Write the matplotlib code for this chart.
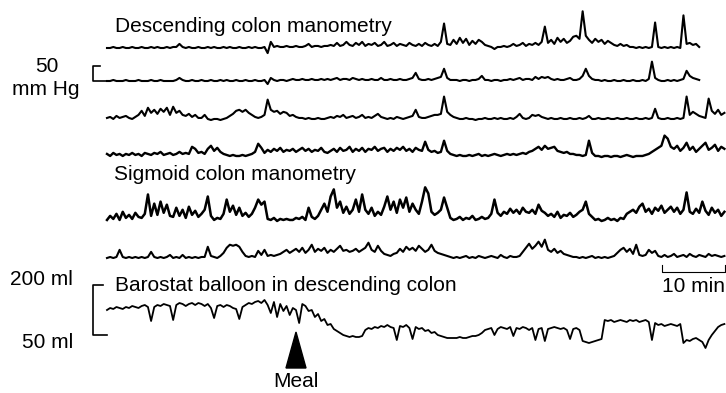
import numpy as np
import matplotlib.pyplot as plt
from matplotlib.patches import Polygon

plt.rcParams['font.family'] = ['Liberation Sans', 'DejaVu Sans']

# one reading every half minute, meal given at 30 min
STEP_MIN = 0.5
meal_min = 30

# descending colon manometry, 3 channels + 1 (mm Hg above baseline)
desc1 = [0, 0, 3, 0, 0, 3, 0, 0, 3, 0,
         0, 3, 0, 0, 3, 0, 3, 0, 0, 3,
         0, 3, 3, 12, 3, 0, 3, 0, 0, 3,
         0, 0, 3, 0, 3, 0, 0, 3, 0, 3,
         0, 0, 3, 0, 0, 3, 0, 3, 0, 0,
         3, -15, 18, 3, 6, 3, 3, 6, 3, 3,
         6, 3, 3, 6, 12, 3, 6, 6, 3, 6,
         6, 9, 6, 15, 6, 9, 18, 9, 6, 15,
         9, 18, 6, 12, 9, 15, 6, 9, 18, 6,
         9, 15, 6, 12, 9, 6, 15, 9, 6, 12,
         6, 15, 9, 6, 12, 6, 18, 72, 12, 9,
         24, 12, 30, 15, 27, 9, 21, 12, 24, 18,
         9, 6, 3, -3, 3, 3, 6, 3, 6, 12,
         6, 9, 15, 6, 12, 9, 15, 9, 18, 63,
         15, 24, 12, 30, 18, 27, 15, 21, 33, 36,
         27, 108, 36, 24, 15, 27, 18, 24, 12, 21,
         15, 9, 6, 12, 6, 9, 3, 3, 0, 3,
         0, 3, 0, 3, 75, 3, 0, 3, 0, 3,
         0, 3, 0, 96, 12, 15, 9, 12, 3]

desc2 = [0, 0, 3, 0, 0, 0, 3, 0, 0, 0,
         3, 0, 0, 0, 3, 0, 0, 3, 0, 0,
         0, 0, 3, 9, 3, 0, 0, 3, 0, 0,
         3, 0, 0, 3, 0, 0, 3, 0, 3, 0,
         0, 3, 0, 0, 3, 0, 0, 3, 0, 0,
         3, -9, 9, 3, 0, 3, 3, 0, 3, 6,
         3, 3, 6, 3, 3, 6, 3, 3, 6, 3,
         6, 3, 6, 9, 3, 6, 6, 3, 9, 6,
         3, 6, 3, 3, 6, 3, 3, 9, 3, 3,
         6, 3, 3, 6, 3, 3, 6, 9, 24, 6,
         3, 3, 6, 3, 6, 9, 12, 36, 9, 3,
         3, 3, 0, 3, 3, 0, 3, 3, 6, 15,
         3, 3, 0, 3, 3, 0, 3, 3, 6, 3,
         6, 9, 3, 6, 6, 3, 12, 6, 12, 9,
         12, 6, 3, 6, 3, 3, 6, 9, 3, 3,
         6, 15, 36, 15, 6, 3, 3, 0, 3, 0,
         0, 3, 0, 0, 3, 0, 0, 3, 0, 0,
         3, 0, 6, 57, 9, 3, 0, 0, 3, 0,
         3, 0, 3, 6, 30, 15, 9, 6, 3]

desc3 = [6, 9, 3, 12, 6, 9, 12, 6, 3, 9,
         15, 27, 12, 36, 21, 30, 18, 33, 24, 36,
         15, 39, 21, 27, 15, 12, 18, 9, 15, 6,
         6, 15, 3, 0, 3, 3, 0, 3, 6, 12,
         18, 27, 30, 24, 30, 21, 15, 9, 6, 9,
         15, 60, 30, 24, 27, 18, 24, 21, 12, 15,
         9, 6, 6, 3, 6, 3, 3, 6, 3, 3,
         6, 9, 6, 12, 9, 15, 6, 9, 12, 6,
         9, 15, 6, 9, 6, 12, 18, 9, 6, 3,
         6, 3, 9, 6, 3, 6, 9, 12, 30, 9,
         6, 6, 9, 12, 15, 15, 18, 69, 24, 15,
         9, 6, 3, 3, 6, 3, 3, 0, 3, 3,
         6, 3, 3, 6, 3, 6, 3, 3, 6, 3,
         9, 18, 6, 3, 6, 15, 12, 15, 9, 6,
         3, 6, 3, 3, 6, 3, 3, 6, 3, 3,
         6, 3, 6, 12, 3, 3, 6, 3, 3, 6,
         3, 3, 6, 3, 3, 6, 3, 3, 6, 3,
         3, 6, 3, 6, 33, 6, 3, 3, 6, 3,
         3, 6, 3, 6, 69, 15, 24, 18, 12, 9,
         6, 63, 27, 18, 30, 15, 21]

desc4 = [9, 3, 12, 6, 9, 3, 9, 6, 12, 6,
         9, 3, 12, 9, 6, 12, 9, 15, 6, 9,
         12, 6, 9, 15, 9, 12, 9, 30, 24, 12,
         15, 9, 24, 33, 18, 27, 15, 9, 6, 3,
         6, 3, 3, 6, 3, 6, 9, 15, 39, 27,
         12, 21, 15, 24, 18, 27, 15, 21, 18, 24,
         15, 21, 27, 18, 24, 15, 21, 18, 27, 15,
         12, 18, 24, 15, 27, 18, 21, 30, 15, 24,
         18, 27, 15, 24, 21, 30, 18, 24, 27, 15,
         24, 18, 27, 21, 30, 18, 24, 15, 27, 21,
         18, 45, 21, 15, 18, 12, 15, 48, 18, 9,
         6, 3, 6, 3, 3, 6, 3, 6, 9, 3,
         6, 3, 6, 9, 6, 3, 6, 9, 6, 9,
         6, 9, 12, 9, 15, 18, 24, 30, 21, 33,
         24, 27, 30, 18, 15, 12, 15, 9, 9, 6,
         6, 3, 6, 48, 12, 3, 3, 0, 3, 3,
         0, 3, 3, 0, 3, 6, 3, 0, 3, 3,
         3, 6, 9, 15, 21, 27, 33, 63, 54, 30,
         24, 33, 18, 27, 42, 21, 30, 15, 24, 33,
         42, 21, 27, 36, 18, 30, 24]

# sigmoid colon manometry (mm Hg above baseline)
sig1 = [6, 18, 9, 24, 6, 30, 12, 21, 9, 27,
        15, 12, 24, 81, 18, 54, 21, 60, 27, 51,
        18, 15, 42, 18, 36, 12, 45, 21, 33, 15,
        24, 36, 75, 18, 6, 12, 9, 24, 66, 30,
        48, 21, 42, 18, 27, 15, 24, 42, 66, 51,
        60, 9, 6, 12, 3, 9, 6, 9, 6, 6,
        12, 9, 15, 6, 42, 15, 9, 18, 36, 54,
        30, 75, 96, 42, 60, 27, 45, 24, 36, 66,
        30, 81, 36, 24, 42, 18, 30, 21, 45, 75,
        36, 60, 27, 66, 42, 72, 30, 54, 36, 24,
        60, 102, 84, 30, 21, 27, 36, 72, 42, 12,
        6, 9, 15, 6, 12, 9, 18, 6, 9, 15,
        9, 12, 24, 66, 27, 18, 30, 24, 39, 27,
        36, 24, 42, 30, 27, 36, 24, 51, 33, 27,
        18, 24, 15, 30, 12, 21, 18, 27, 15, 21,
        30, 36, 60, 24, 15, 6, 9, 3, 6, 12,
        6, 9, 3, 12, 9, 24, 30, 36, 27, 45,
        54, 30, 39, 24, 42, 33, 48, 27, 36, 45,
        30, 42, 24, 36, 87, 30, 24, 39, 27, 60,
        33, 21, 42, 27, 36, 18, 30]

sig2 = [0, 3, 0, 3, 24, 3, 0, 3, 0, 3,
        0, 3, 0, 3, 18, 3, 0, 3, 0, 3,
        9, 0, 3, 0, 9, 0, 3, 0, 3, 0,
        3, 3, 33, 6, 3, 0, 6, 15, 30, 39,
        36, 39, 33, 18, 6, 3, 6, 3, 21, 9,
        24, 6, 9, 6, 9, 12, 18, 24, 15, 21,
        27, 18, 30, 15, 24, 39, 18, 27, 21, 30,
        15, 24, 18, 27, 36, 21, 24, 18, 21, 27,
        18, 24, 30, 45, 24, 18, 36, 21, 12, 9,
        6, 12, 15, 27, 18, 33, 24, 30, 21, 36,
        27, 18, 24, 39, 21, 15, 12, 9, 6, 3,
        0, 3, 0, 3, 6, 0, 3, 0, 6, 3,
        0, 3, 6, 3, 0, 9, 3, 0, 6, 3,
        3, 6, 18, 30, 42, 27, 36, 48, 33, 54,
        24, 18, 27, 15, 21, 12, 9, 6, 3, 3,
        0, 3, 0, 3, 6, 0, 3, 0, 3, 0,
        3, 6, 15, 24, 30, 18, 27, 12, 39, 9,
        6, 9, 24, 15, 21, 6, 3, 9, 3, 6,
        12, 3, 6, 9, 3, 12, 6, 3, 9, 6,
        3, 12, 6, 9, 6, 3, 6]

# barostat balloon volume (ml)
barostat_ml = [125, 131, 128, 134, 131, 128, 134, 131, 137, 134,
               131, 137, 140, 134, 92, 134, 140, 137, 143, 140,
               137, 95, 140, 146, 143, 137, 143, 146, 140, 146,
               143, 137, 143, 131, 101, 137, 140, 134, 140, 137,
               131, 128, 98, 134, 140, 146, 143, 149, 152, 146,
               155, 140, 116, 149, 104, 143, 122, 137, 110, 131,
               125, 86, 143, 137, 122, 125, 104, 113, 92, 98,
               80, 83, 68, 62, 56, 50, 47, 44, 47, 44,
               44, 47, 65, 71, 68, 74, 71, 77, 74, 80,
               74, 71, 35, 77, 74, 80, 71, 38, 74, 68,
               71, 62, 65, 56, 59, 50, 47, 44, 41, 41,
               41, 41, 44, 41, 41, 44, 47, 47, 50, 56,
               65, 68, 71, 50, 68, 74, 71, 68, 74, 47,
               71, 68, 74, 71, 65, 71, 35, 68, 71, 32,
               68, 71, 74, 71, 68, 71, 65, 38, 68, 71,
               65, 32, 29, 26, 29, 32, 35, 38, 95, 92,
               95, 89, 92, 95, 92, 89, 95, 92, 95, 89,
               92, 95, 89, 35, 86, 80, 83, 77, 80, 83,
               80, 77, 83, 26, 35, 32, 38, 41, 35, 29,
               11, 35, 50, 62, 74, 80, 83]

# page layout in pixels
X0 = 107          # where minute 0 sits
PX_MIN = 6.3      # pixels per minute
MMHG = 0.34       # pixels per mm Hg (50 mm Hg bar = 17 px)
ML = 1 / 3        # pixels per ml (150 ml bar = 50 px)

fig = plt.figure(figsize=(7.26, 3.93), dpi=100)
ax = fig.add_axes([0, 0, 1, 1])
ax.set_xlim(0, 726)
ax.set_ylim(393, 0)
ax.axis('off')


def trace(vals, base, scale, lw=1.5):
    t = np.arange(len(vals)) * STEP_MIN
    ax.plot(X0 + t * PX_MIN, base - np.array(vals) * scale, color='black', lw=lw)


trace(desc1, 48, MMHG)
trace(desc2, 81, MMHG)
trace(desc3, 120, MMHG)
trace(desc4, 157, MMHG, lw=1.7)
trace(sig1, 222, MMHG, lw=1.8)
trace(sig2, 258, MMHG)
trace(np.array(barostat_ml) - 50, 335, ML, lw=1.3)

fs = 15
ax.text(115, 32, "Descending colon manometry", fontsize=fs, va='baseline')
ax.text(114, 180, "Sigmoid colon manometry", fontsize=fs, va='baseline')
ax.text(115, 291, "Barostat balloon in descending colon", fontsize=fs, va='baseline')

# 50 mm Hg scale bracket
ax.text(47, 72, "50", fontsize=fs, ha='center', va='baseline')
ax.text(46, 95, "mm Hg", fontsize=fs, ha='center', va='baseline')
ax.plot([100, 93, 93, 108], [66, 66, 81, 81], color='black', lw=1.2)

# volume scale bracket
ax.text(73, 285, "200 ml", fontsize=fs, ha='right', va='baseline')
ax.text(73, 348, "50 ml", fontsize=fs, ha='right', va='baseline')
ax.plot([103, 93, 93, 107], [285, 285, 335, 335], color='black', lw=1.2)

# 10 min time bar
ax.plot([662, 662, 662 + 10 * PX_MIN, 662 + 10 * PX_MIN], [265, 272, 272, 265], color='black', lw=0.8)
ax.text(662 + 5 * PX_MIN, 292, "10 min", fontsize=fs, ha='center', va='baseline')

# meal marker
mx = X0 + meal_min * PX_MIN
ax.add_patch(Polygon([[mx, 332], [mx - 10, 368], [mx + 10, 368]], closed=True, color='black'))
ax.text(mx, 387, "Meal", fontsize=fs, ha='center', va='baseline')

fig.savefig("out.png", dpi=100)
